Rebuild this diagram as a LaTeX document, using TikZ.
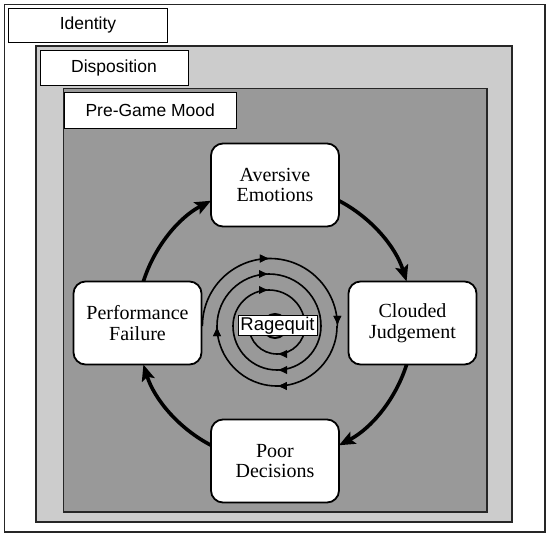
\documentclass[tikz,border=0pt]{standalone}
\usepackage{fontspec}
\setmainfont{Liberation Serif}
\newfontfamily\lblfont{Liberation Sans}
\usetikzlibrary{arrows.meta,decorations.markings,calc}
\definecolor{dispgray}{gray}{0.80}
\definecolor{moodgray}{gray}{0.60}
\begin{document}
\begin{tikzpicture}[x=1pt,y=-1pt,
  layerlabel/.style={draw=black, line width=1pt, fill=white, inner sep=0pt, anchor=north west,
    font=\lblfont\fontsize{17.5}{20}\selectfont},
  stage/.style={draw=black, line width=1.8pt, fill=white, rounded corners=12pt,
    minimum width=128pt, minimum height=83pt, align=center, inner sep=0pt,
    font=\fontsize{20}{20.5}\selectfont},
  cycarrow/.style={line width=3.6pt, -{Stealth[length=16pt,width=13pt,inset=3pt]}},
  spir/.style={line width=1.6pt},
  midarr/.style={postaction={decorate}, decoration={markings,
    mark=at position 0.5 with {\arrow{Latex[length=10pt,width=8.5pt]}}}},
  endarr/.style={postaction={decorate}, decoration={markings,
    mark=at position 0.999 with {\arrow{Latex[length=10pt,width=8.5pt]}}}}
]
\useasboundingbox (0,0) rectangle (550,539);
% layers
\draw[line width=1.2pt, draw=black!85] (4.5,4.5) rectangle (545,532);
\draw[line width=1.3pt, draw=black!85, fill=dispgray] (36,46) rectangle (512,522);
\draw[line width=1.6pt, draw=black!85, fill=moodgray] (63.5,88.5) rectangle (487,512);
\node[layerlabel, minimum width=159pt, minimum height=34pt] (identity) at (8,7.5) {Identity};
\node[layerlabel, minimum width=148pt, minimum height=35.5pt] (disposition) at (39.5,49.5) {Disposition};
\node[layerlabel, minimum width=171.5pt, minimum height=35.5pt] (mood) at (64,92) {Pre-Game Mood};
% cycle stages
\node[stage] (aversive) at (275,185) {Aversive\\Emotions};
\node[stage] (clouded) at (412.5,323) {Clouded\\Judgement};
\node[stage] (poor) at (275,461) {Poor\\Decisions};
\node[stage] (perf) at (137.5,323) {Performance\\Failure};
\coordinate (cyc) at (275,323);
\draw[cycarrow] ($(cyc)+(-62.4:138)$) arc[start angle=-62.4, end angle=-17.5, radius=138];
\draw[cycarrow] ($(cyc)+(17.5:138)$) arc[start angle=17.5, end angle=62.4, radius=138];
\draw[cycarrow] ($(cyc)+(117.6:138)$) arc[start angle=117.6, end angle=162.5, radius=138];
\draw[cycarrow] ($(cyc)+(197.5:138)$) arc[start angle=197.5, end angle=242.4, radius=138];
% spiral
\coordinate (s0) at (perf.east |- 0,326);
\draw[spir, midarr, endarr] (s0) arc[start angle=180, end angle=360, radius=67.5];
\draw[spir, midarr, endarr] (337,326) arc[start angle=0, end angle=180, radius=60];
\draw[spir, midarr] (217,326) arc[start angle=180, end angle=360, radius=52];
\draw[spir, midarr] (321,326) arc[start angle=0, end angle=180, radius=44];
\draw[spir, midarr] (233,326) arc[start angle=180, end angle=360, radius=36];
\draw[spir, midarr] (305,326) arc[start angle=0, end angle=180, radius=28];
\draw[spir, line width=2pt] (275,326) circle[radius=12];
\node[draw=black, fill=white, line width=0.8pt, inner xsep=2.5pt, inner ysep=1pt,
  font=\lblfont\fontsize{18.5}{18.5}\selectfont] (rq) at (277.5,325.5) {Ragequit};
\end{tikzpicture}
\end{document}
